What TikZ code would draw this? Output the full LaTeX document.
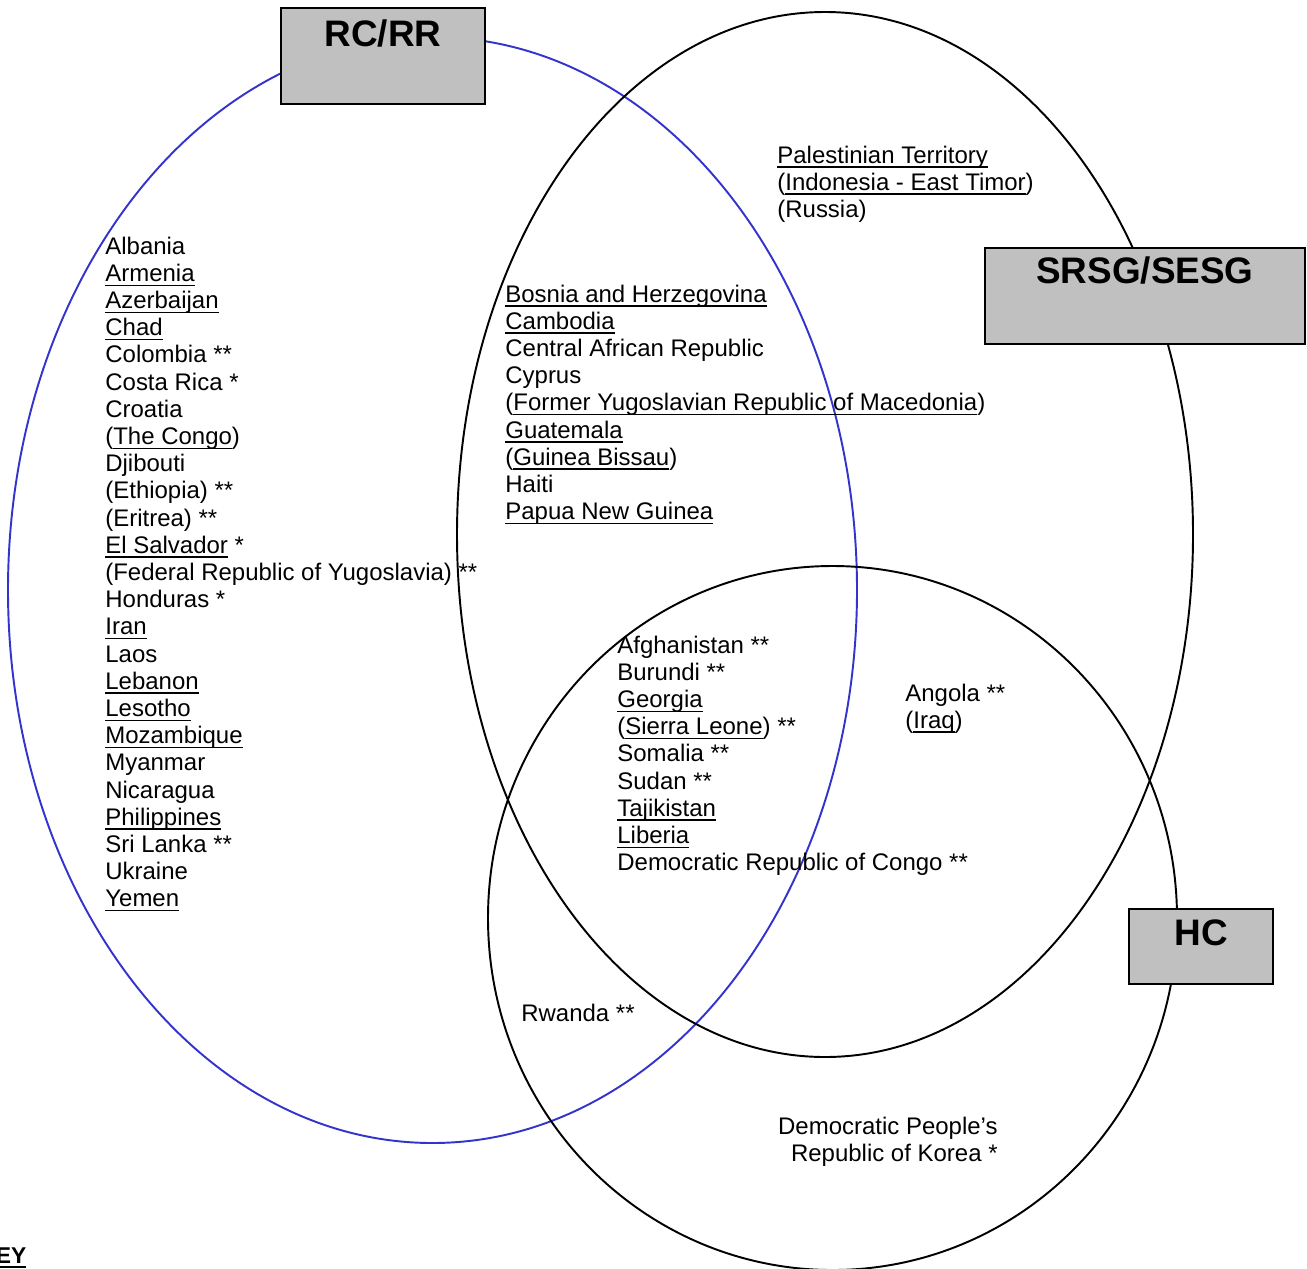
\documentclass[tikz,border=0pt]{standalone}
\usepackage{fontspec}
\setmainfont{Liberation Sans}
\definecolor{boxgray}{RGB}{192,192,192}
\definecolor{rcblue}{RGB}{52,52,204}
\newsavebox\ulcbox
\newcommand\ulc[1]{\sbox\ulcbox{#1}\rlap{\usebox\ulcbox}\rule[-2.6pt]{\wd\ulcbox}{0.75pt}}
\begin{document}
\begin{tikzpicture}[x=0.02cm,y=-0.02cm,
  ring/.style={line width=1.1pt},
  tagbox/.style={draw=black, line width=1.1pt, fill=boxgray},
  tagtext/.style={font=\fontsize{21}{25}\selectfont\bfseries, anchor=base, inner sep=0pt},
  cntry/.style={font=\fontsize{13.65}{15.48}\selectfont, align=left, anchor=base west, inner sep=0pt}]
\useasboundingbox (0,0) rectangle (1307,1268);
% the three groups
\draw[ring, rcblue] (432.5,590) ellipse [x radius=424.5, y radius=553];
\draw[ring] (825,534.5) ellipse [x radius=368, y radius=522.5];
\draw[ring] (832.5,918) ellipse [x radius=344.5, y radius=352];
% headings
\draw[tagbox] (281,8) rectangle (485,104);
\draw[tagbox] (985,248) rectangle (1305,344);
\draw[tagbox] (1129,909) rectangle (1273,984);
\node[tagtext] (rcrr) at (383,46) {RC/RR};
\node[tagtext] (srsg) at (1145,283) {SRSG/SESG};
\node[tagtext] (hc) at (1201,945.5) {HC};
% countries (placed by the baseline of the last line)
\node[cntry] (rconly) at (105,906.8) {Albania\\ \ulc{Armenia}\\ \ulc{Azerbaijan}\\ \ulc{Chad}\\ Colombia **\\ Costa Rica *\\ Croatia\\ (\ulc{The Congo})\\ Djibouti\\ (Ethiopia) **\\ (Eritrea) **\\ \ulc{El Salvador} *\\ (Federal Republic of Yugoslavia) **\\ Honduras *\\ \ulc{Iran}\\ Laos\\ \ulc{Lebanon}\\ \ulc{Lesotho}\\ \ulc{Mozambique}\\ Myanmar\\ Nicaragua\\ \ulc{Philippines}\\ Sri Lanka **\\ Ukraine\\ \ulc{Yemen}};
\node[cntry] (rcsrsg) at (505,519.6) {\ulc{Bosnia and Herzegovina}\\ \ulc{Cambodia}\\ Central African Republic\\ Cyprus\\ (\ulc{Former Yugoslavian Republic of Macedonia})\\ \ulc{Guatemala}\\ (\ulc{Guinea Bissau})\\ Haiti\\ \ulc{Papua New Guinea}};
\node[cntry] (srsgonly) at (777,217.4) {\ulc{Palestinian Territory}\\ (\ulc{Indonesia - East Timor})\\ (Russia)};
\node[cntry] (allthree) at (617,870.6) {Afghanistan **\\ Burundi **\\ \ulc{Georgia}\\ (\ulc{Sierra Leone}) **\\ Somalia **\\ Sudan **\\ \ulc{Tajikistan}\\ \ulc{Liberia}\\ Democratic Republic of Congo **};
\node[cntry] (srsghc) at (905,728.2) {Angola **\\ (\ulc{Iraq})};
\node[cntry] (rchc) at (521,1021) {Rwanda **};
\node[cntry, align=right, anchor=base east] (hconly) at (998,1161.2) {Democratic People’s\\ Republic of Korea *};
\node[font=\fontsize{13}{15}\selectfont\bfseries, anchor=base east, inner sep=0pt] (key) at (26.7,1263) {\ulc{KEY}};
\end{tikzpicture}
\end{document}
